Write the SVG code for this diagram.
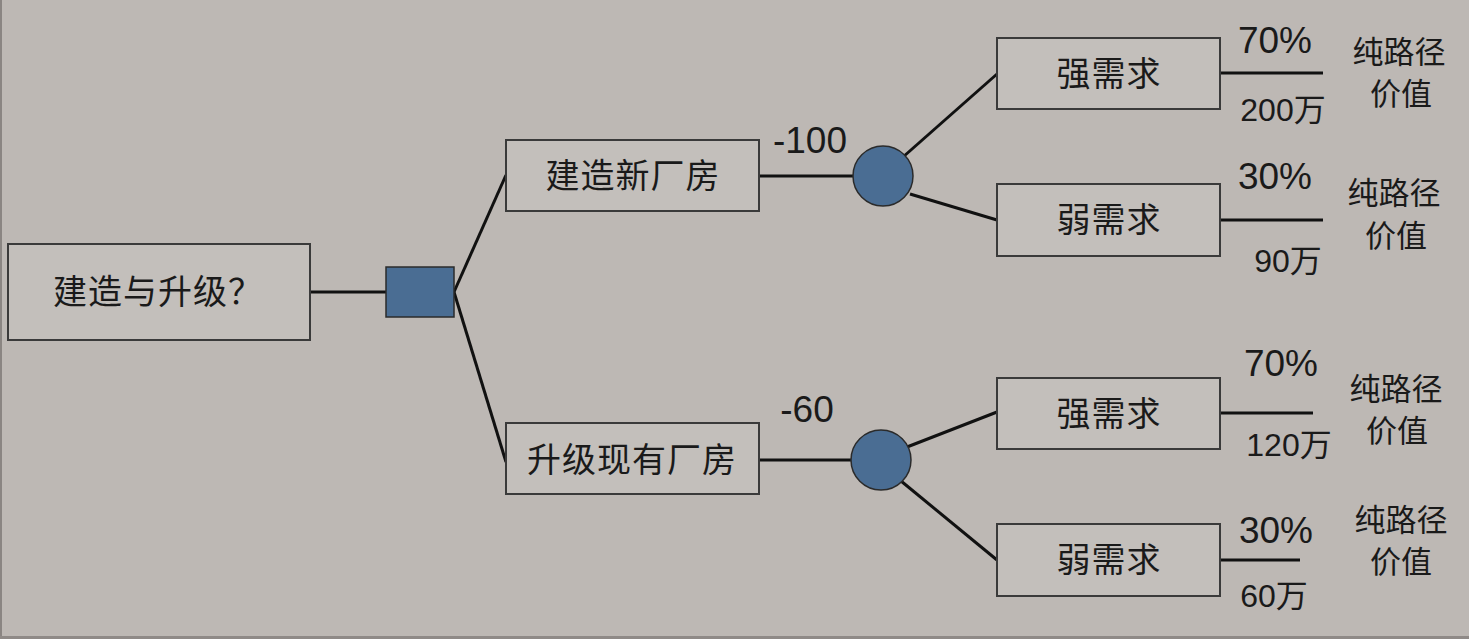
<svg xmlns="http://www.w3.org/2000/svg" width="1469" height="639" viewBox="0 0 1469 639">
<style>
.box{fill:#c3bfbb;stroke:#3a3a3a;stroke-width:2}
.dec{fill:#4a6d93;stroke:#2b2b2b;stroke-width:1.5}
.chance{fill:#4a6d93;stroke:#2b2b2b;stroke-width:1.5}
.ln{stroke:#111;stroke-width:3;fill:none}
.t{font-family:"Noto Sans CJK SC","Noto Sans",sans-serif;font-size:34px;fill:#1a1a1a;text-anchor:middle;letter-spacing:1px}
.n{font-family:"Liberation Sans","Noto Sans CJK SC",sans-serif;font-size:37px;fill:#1a1a1a;text-anchor:middle}
.v{font-family:"Liberation Sans","Noto Sans CJK SC",sans-serif;font-size:32px;fill:#1a1a1a;text-anchor:middle}
.s{font-family:"Noto Sans CJK SC",sans-serif;font-size:31px;fill:#1a1a1a;text-anchor:middle}
</style>
<rect x="0" y="0" width="1469" height="639" fill="#bdb8b4"/>
<rect x="0" y="0" width="2" height="639" fill="#8a8582"/>
<rect x="0" y="636" width="1469" height="3" fill="#8f8a87"/>
<g id="connectors">
<line class="ln" x1="310" y1="292" x2="387" y2="292"/>
<line class="ln" x1="454" y1="292" x2="506" y2="175"/>
<line class="ln" x1="454" y1="292" x2="506" y2="462"/>
<line class="ln" x1="759" y1="176" x2="854" y2="176"/>
<line class="ln" x1="759" y1="460" x2="852" y2="460"/>
<line class="ln" x1="903" y1="157" x2="997" y2="74"/>
<line class="ln" x1="910" y1="194" x2="997" y2="220"/>
<line class="ln" x1="907" y1="447" x2="997" y2="412"/>
<line class="ln" x1="901" y1="481" x2="997" y2="560"/>
<line class="ln" x1="1220" y1="73" x2="1323" y2="73"/>
<line class="ln" x1="1220" y1="220" x2="1323" y2="220"/>
<line class="ln" x1="1220" y1="413" x2="1313" y2="413"/>
<line class="ln" x1="1220" y1="560" x2="1300" y2="560"/>
</g>
<g id="root"><rect class="box" x="8" y="244" width="302" height="96"/><text class="t" x="158" y="304">建造与升级？</text></g>
<g id="decision"><rect class="dec" x="386" y="267" width="68" height="50"/></g>
<g id="build"><rect class="box" x="506" y="140" width="253" height="71"/><text class="t" x="633" y="188">建造新厂房</text></g>
<g id="upgrade"><rect class="box" x="506" y="423" width="253" height="71"/><text class="t" x="632" y="472">升级现有厂房</text></g>
<g id="chance1"><circle class="chance" cx="883" cy="176" r="30"/></g>
<g id="chance2"><circle class="chance" cx="881" cy="460" r="30"/></g>
<g id="strong1"><rect class="box" x="997" y="38" width="223" height="71"/><text class="t" x="1109" y="86">强需求</text></g>
<g id="weak1"><rect class="box" x="997" y="184" width="223" height="72"/><text class="t" x="1109" y="232">弱需求</text></g>
<g id="strong2"><rect class="box" x="997" y="378" width="223" height="71"/><text class="t" x="1109" y="426">强需求</text></g>
<g id="weak2"><rect class="box" x="997" y="524" width="223" height="72"/><text class="t" x="1109" y="572">弱需求</text></g>
<g id="labels">
<text class="n" x="810" y="153">-100</text>
<text class="n" x="807" y="422">-60</text>
<text class="n" x="1275" y="53">70%</text>
<text class="v" x="1283" y="121">200万</text>
<text class="s" x="1399" y="63">纯路径</text>
<text class="s" x="1401" y="105">价值</text>
<text class="n" x="1275" y="189">30%</text>
<text class="v" x="1288" y="272">90万</text>
<text class="s" x="1394" y="204">纯路径</text>
<text class="s" x="1396" y="247">价值</text>
<text class="n" x="1281" y="376">70%</text>
<text class="v" x="1289" y="456">120万</text>
<text class="s" x="1396" y="400">纯路径</text>
<text class="s" x="1397" y="442">价值</text>
<text class="n" x="1276" y="543">30%</text>
<text class="v" x="1274" y="607">60万</text>
<text class="s" x="1401" y="531">纯路径</text>
<text class="s" x="1401" y="573">价值</text>
</g>
</svg>
